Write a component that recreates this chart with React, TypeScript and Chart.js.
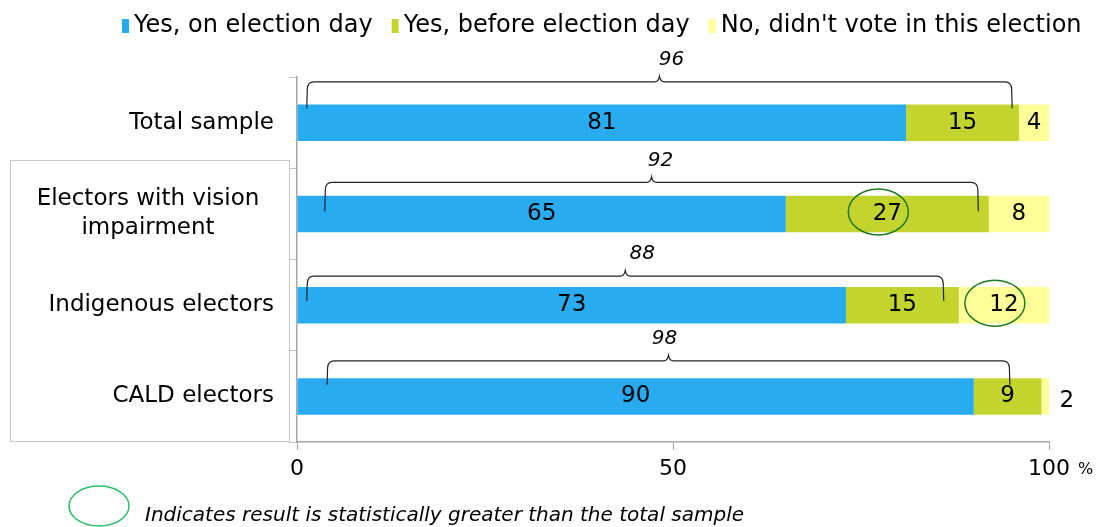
import React, { useEffect, useRef } from "react";
import { Chart, registerables } from "chart.js";

Chart.register(...registerables);

const categories: string[][] = [
  ["Total sample"],
  ["Electors with vision", "impairment"],
  ["Indigenous electors"],
  ["CALD electors"],
];
const seriesNames = ["Yes, on election day", "Yes, before election day", "No, didn't vote in this election"];
const onElectionDay = [81, 65, 73, 90];
const beforeElectionDay = [15, 27, 15, 9];
const didNotVote = [4, 8, 12, 2];
const votedTotals = [96, 92, 88, 98];
const braceFrom = [1.3, 3.7, 1.3, 4.0];
const braceTo = [95.1, 90.6, 86.0, 94.8];
const sigBefore = [false, true, false, false];
const sigDidNot = [false, false, true, false];
const xTickValues = [0, 50, 100];
const footnoteText = "Indicates result is statistically greater than the total sample";

const COLORS = ["#29ABF2", "#C4D42F", "#FFFF99"];
const FONT = "'DejaVu Sans', Verdana, sans-serif";

// per-row brace styling (pixels)
const BRACE_LIFT = [22.6, 13.3, 10.7, 17.3];
const BRACE_DROP = [4, 15.7, 14, 6.7];
const BRACE_LABEL_DX = [12, 9, 17, -4];

function drawBrace(ctx: CanvasRenderingContext2D, x1: number, x2: number, yLine: number, yEnd: number) {
  const r = 7;
  const cx = (x1 + x2) / 2;
  ctx.beginPath();
  ctx.moveTo(x1, yEnd);
  ctx.lineTo(x1 + 0.5, yLine + r);
  ctx.quadraticCurveTo(x1 + 1, yLine, x1 + r, yLine);
  ctx.lineTo(cx - 5, yLine);
  ctx.quadraticCurveTo(cx - 1, yLine, cx, yLine - 5.5);
  ctx.quadraticCurveTo(cx + 1, yLine, cx + 5, yLine);
  ctx.lineTo(x2 - r, yLine);
  ctx.quadraticCurveTo(x2 - 1, yLine, x2 - 0.5, yLine + r);
  ctx.lineTo(x2, yEnd);
  ctx.stroke();
}

const overlayPlugin = {
  id: "overlay",
  afterDraw(chart: any) {
    const ctx: CanvasRenderingContext2D = chart.ctx;
    const xs = chart.scales.x;
    const ys = chart.scales.y;
    ctx.save();

    // label box
    ctx.strokeStyle = "#C8C8C8";
    ctx.lineWidth = 1;
    ctx.strokeRect(10.5, 160.5, 279, 281);

    // category labels
    ctx.fillStyle = "#000";
    ctx.font = `23px ${FONT}`;
    ctx.textBaseline = "middle";
    categories.forEach((lines, i) => {
      const yc = ys.getPixelForValue(i);
      if (lines.length === 1) {
        ctx.textAlign = "right";
        ctx.fillText(lines[0], 274, yc);
      } else {
        ctx.textAlign = "center";
        const lh = 29;
        lines.forEach((ln, k) => {
          ctx.fillText(ln, 148, yc - ((lines.length - 1) * lh) / 2 + k * lh);
        });
      }
    });

    // legend
    ctx.font = `24px ${FONT}`;
    ctx.textAlign = "left";
    let lx = 122;
    const ly = 26;
    seriesNames.forEach((name, i) => {
      ctx.fillStyle = COLORS[i];
      ctx.fillRect(lx, ly - 7, 7, 14);
      ctx.fillStyle = "#000";
      ctx.fillText(name, lx + 12, ly);
      lx += 12 + ctx.measureText(name).width + 19;
    });

    // value labels and significance circles
    ctx.font = `23px ${FONT}`;
    chart.data.datasets.forEach((ds: any, di: number) => {
      const meta = chart.getDatasetMeta(di);
      meta.data.forEach((bar: any, i: number) => {
        const v = ds.data[i];
        const left = Math.min(bar.base, bar.x);
        const right = Math.max(bar.base, bar.x);
        ctx.fillStyle = "#000";
        let tx: number;
        if (v < 3) {
          ctx.textAlign = "left";
          tx = right + 3;
          ctx.fillText(String(v), tx, bar.y + 5);
        } else {
          ctx.textAlign = "center";
          tx = (left + right) / 2;
          ctx.fillText(String(v), tx, bar.y);
        }
        const sig = (di === 1 && sigBefore[i]) || (di === 2 && sigDidNot[i]);
        if (sig) {
          ctx.strokeStyle = "#1E7A1E";
          ctx.lineWidth = 1.5;
          ctx.beginPath();
          ctx.ellipse(tx - 9, bar.y - 2, 30, 23, 0, 0, Math.PI * 2);
          ctx.stroke();
        }
      });
    });

    // braces with totals
    const meta0 = chart.getDatasetMeta(0);
    votedTotals.forEach((t, i) => {
      const bar = meta0.data[i];
      const top = bar.y - bar.height / 2;
      const yLine = top - BRACE_LIFT[i];
      const yEnd = top + BRACE_DROP[i];
      const x1 = xs.getPixelForValue(braceFrom[i]);
      const x2 = xs.getPixelForValue(braceTo[i]);
      ctx.strokeStyle = "#222";
      ctx.lineWidth = 1.2;
      drawBrace(ctx, x1, x2, yLine, yEnd);
      ctx.fillStyle = "#000";
      ctx.font = `italic 20px ${FONT}`;
      ctx.textAlign = "center";
      ctx.fillText(String(t), (x1 + x2) / 2 + BRACE_LABEL_DX[i], yLine - 22);
    });

    // percent sign
    ctx.font = `16px ${FONT}`;
    ctx.textAlign = "left";
    ctx.fillStyle = "#000";
    ctx.fillText("%", xs.getPixelForValue(100) + 29, 470);

    // footnote
    ctx.strokeStyle = "#2DBE6C";
    ctx.lineWidth = 1.5;
    ctx.beginPath();
    ctx.ellipse(99, 506, 30, 20, 0, 0, Math.PI * 2);
    ctx.stroke();
    ctx.fillStyle = "#000";
    ctx.font = `italic 20px ${FONT}`;
    ctx.textAlign = "left";
    ctx.fillText(footnoteText, 145, 516);

    ctx.restore();
  },
};

export default function App() {
  const ref = useRef<HTMLCanvasElement | null>(null);
  useEffect(() => {
    document.body.style.margin = "0";
    const canvas = ref.current!;
    const chart = new Chart(canvas, {
      type: "bar",
      data: {
        labels: categories.map((c) => c.join(" ")),
        datasets: [onElectionDay, beforeElectionDay, didNotVote].map((d, i) => ({
          label: seriesNames[i],
          data: d,
          backgroundColor: COLORS[i],
          borderWidth: 0,
          barPercentage: 0.4,
          categoryPercentage: 1.0,
        })),
      },
      options: {
        indexAxis: "y",
        responsive: false,
        animation: false,
        devicePixelRatio: 1,
        layout: { padding: { top: 77, right: 52, left: 0, bottom: 0 } },
        plugins: { legend: { display: false }, tooltip: { enabled: false } },
        scales: {
          x: {
            stacked: true,
            min: 0,
            max: 100,
            afterBuildTicks: (s: any) => {
              s.ticks = xTickValues.map((v) => ({ value: v }));
            },
            afterFit: (s: any) => {
              s.height = 85;
            },
            grid: { drawOnChartArea: false, color: "#A6A6A6", tickLength: 8 },
            border: { color: "#A6A6A6", width: 1.5 },
            ticks: { color: "#000", font: { family: FONT, size: 22 }, padding: 6, maxRotation: 0 },
          },
          y: {
            stacked: true,
            afterFit: (s: any) => {
              s.width = 297;
            },
            grid: { drawOnChartArea: false, color: "#BFBFBF", tickLength: 8, offset: true },
            border: { color: "#A6A6A6", width: 1.5 },
            ticks: { display: false },
          },
        },
      },
      plugins: [overlayPlugin],
    });
    return () => chart.destroy();
  }, []);
  return <canvas ref={ref} width={1101} height={527} style={{ display: "block" }} />;
}
